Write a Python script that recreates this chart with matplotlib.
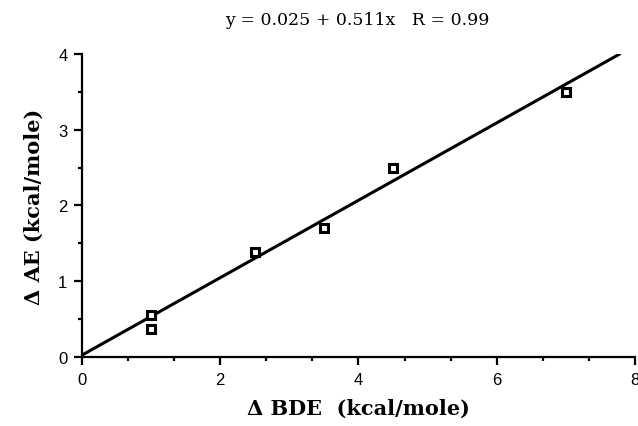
import numpy as np
import matplotlib
matplotlib.use('Agg')
import matplotlib.pyplot as plt
from matplotlib.ticker import MultipleLocator, AutoMinorLocator

# measured data
bde = [1.0, 1.0, 2.5, 3.5, 4.5, 7.0]
ae = [0.55, 0.37, 1.38, 1.70, 2.50, 3.50]

# reported fit
intercept = 0.025
slope = 0.511
r_value = 0.99

fig = plt.figure(figsize=(6.38, 4.27), dpi=100)
ax = fig.add_axes([0.1285, 0.1616, 0.8668, 0.7096])

x_end = (4 - intercept) / slope
xs = np.array([0, x_end])
ax.plot(xs, intercept + slope * xs, color='black', lw=2.2, solid_capstyle='round')
ax.plot(bde, ae, ls='none', marker='s', ms=5.5, mfc='white', mec='black', mew=2.2)

ax.set_xlim(0, 8)
ax.set_ylim(0, 4)
ax.xaxis.set_major_locator(MultipleLocator(2))
ax.xaxis.set_minor_locator(AutoMinorLocator(3))
ax.yaxis.set_major_locator(MultipleLocator(1))
ax.yaxis.set_minor_locator(AutoMinorLocator(2))

for s in ['top', 'right']:
    ax.spines[s].set_visible(False)
for s in ['left', 'bottom']:
    ax.spines[s].set_linewidth(1.6)

ax.tick_params(which='major', direction='out', length=5.5, width=1.6, pad=5,
               labelsize=12)
ax.tick_params(which='minor', direction='out', length=3, width=1.6)
for lab in ax.get_xticklabels() + ax.get_yticklabels():
    lab.set_family('Liberation Sans')

ax.set_xlabel('Δ BDE  (kcal/mole)', family='DejaVu Serif', weight='bold',
              fontsize=15, labelpad=8)
ax.set_ylabel('Δ AE (kcal/mole)', family='DejaVu Serif', weight='bold',
              fontsize=15, labelpad=10)

fig.text(0.56, 0.953, f'y = {intercept:.3f} + {slope:.3f}x   R = {r_value:.2f}',
         ha='center', va='center', family='DejaVu Serif', fontsize=12.5)

fig.savefig('out.png', dpi=100)
